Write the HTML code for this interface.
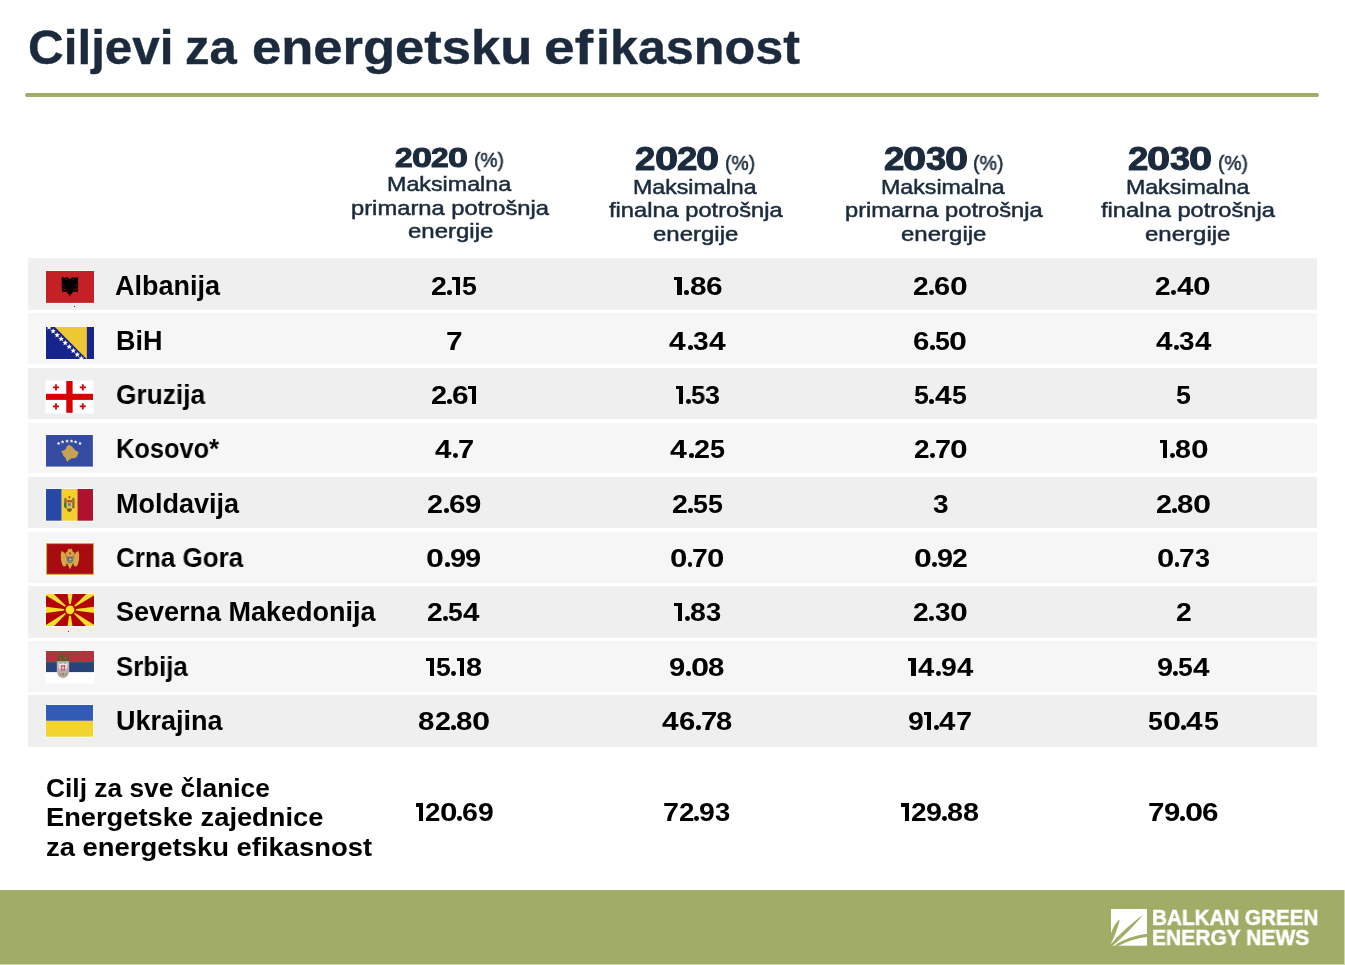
<!DOCTYPE html>
<html><head><meta charset="utf-8"><title>Ciljevi za energetsku efikasnost</title>
<style>
html,body{margin:0;padding:0;background:#fff;}
body{width:1345px;height:965px;position:relative;overflow:hidden;font-family:"Liberation Sans",sans-serif;}
.t{position:absolute;display:block;white-space:nowrap;transform-origin:0 0;will-change:transform;}
.row{position:absolute;left:28px;width:1289px;}
.flag{position:absolute;background:rgba(255,255,255,0.5);}
.fs{position:absolute;display:block;}
.rule{position:absolute;left:25px;top:93px;width:1294px;height:4px;border-radius:2px;background:#a1ad66;}
.foot{position:absolute;left:0;top:890px;width:1344px;height:74px;background:#a1ad66;}
.footedge{position:absolute;left:0;top:890px;width:1345px;height:75px;background:#cdd5ad;}
.r1{position:absolute;display:block;}
.g{color:transparent;font-size:1px;line-height:1px;overflow:hidden;}
.num{display:contents;}
.dot{position:absolute;width:1px;height:1px;background:#333;}
</style></head><body>
<div class="rule"></div>
<div class="row" style="top:258.4px;height:51.4px;background:#efefef"></div>
<div class="row" style="top:312.9px;height:50.9px;background:#f6f6f6"></div>
<div class="row" style="top:367.9px;height:50.8px;background:#efefef"></div>
<div class="row" style="top:422.5px;height:50.3px;background:#f6f6f6"></div>
<div class="row" style="top:477.2px;height:50.6px;background:#efefef"></div>
<div class="row" style="top:531.6px;height:51.3px;background:#f6f6f6"></div>
<div class="row" style="top:585.8px;height:52.1px;background:#efefef"></div>
<div class="row" style="top:640.9px;height:50.7px;background:#f6f6f6"></div>
<div class="row" style="top:695.3px;height:51.3px;background:#efefef"></div>
<div class="flag" style="left:44.9px;top:270.1px;width:50.1px;height:33.9px"></div><svg class="fs" style="left:45.9px;top:271.1px" width="48.1" height="31.9" viewBox="0 0 48.1 31.9"><rect width="48.1" height="31.9" fill="#c42127"/><path fill="#000" d="M23.9 8.4 C23 6.8 21.5 6 20 6.3 L18.5 6.9 L17 6.2 L15.2 6.4 L16 7.8 L15.3 8.6 L16.2 9.8 L15.3 11 L16.2 12.2 L15.3 13.4 L16.2 14.6 L15.4 15.8 L16.3 17 L15.5 18.2 L16.5 19.2 L15.7 21.3 L18 20.4 L19.5 20.9 L21 20.4 L21.5 22.5 L23 23.2 L23.9 25.4 L24.8 23.2 L26.3 22.5 L26.8 20.4 L28.3 20.9 L29.8 20.4 L32.1 21.3 L31.3 19.2 L32.3 18.2 L31.5 17 L32.4 15.8 L31.6 14.6 L32.5 13.4 L31.6 12.2 L32.5 11 L31.6 9.8 L32.5 8.6 L31.8 7.8 L32.6 6.4 L30.8 6.2 L29.3 6.9 L27.8 6.3 C26.3 6 24.8 6.8 23.9 8.4 Z"/><circle cx="20.6" cy="8" r="0.55" fill="#c42127"/><circle cx="27.2" cy="8" r="0.55" fill="#c42127"/><path d="M16.6 17.6 L20.2 19.2 M31.2 17.6 L27.6 19.2 M16.4 13.8 L18.6 15.2 M31.4 13.8 L29.2 15.2" stroke="#c42127" stroke-width="0.7" fill="none"/></svg>
<div class="flag" style="left:44.9px;top:325.7px;width:50.1px;height:34.2px"></div><svg class="fs" style="left:45.9px;top:326.7px" width="48.1" height="32.2" viewBox="0 0 48.1 32.2"><rect width="48.1" height="32.2" fill="#17248c"/><polygon points="8.9,0 40.9,0 40.9,32.2" fill="#eec832"/><polygon points="3.10,-2.60 3.87,-0.76 5.86,-0.60 4.34,0.70 4.80,2.65 3.10,1.60 1.40,2.65 1.86,0.70 0.34,-0.60 2.33,-0.76" fill="#fff"/><polygon points="7.12,1.30 7.89,3.14 9.88,3.30 8.37,4.60 8.83,6.55 7.12,5.50 5.42,6.55 5.88,4.60 4.37,3.30 6.36,3.14" fill="#fff"/><polygon points="11.15,5.20 11.92,7.04 13.91,7.20 12.39,8.50 12.85,10.45 11.15,9.40 9.45,10.45 9.91,8.50 8.39,7.20 10.38,7.04" fill="#fff"/><polygon points="15.18,9.10 15.94,10.94 17.93,11.10 16.42,12.40 16.88,14.35 15.18,13.30 13.47,14.35 13.93,12.40 12.42,11.10 14.41,10.94" fill="#fff"/><polygon points="19.20,13.00 19.97,14.84 21.96,15.00 20.44,16.30 20.90,18.25 19.20,17.21 17.50,18.25 17.96,16.30 16.44,15.00 18.43,14.84" fill="#fff"/><polygon points="23.23,16.90 23.99,18.74 25.98,18.90 24.47,20.20 24.93,22.15 23.23,21.11 21.52,22.15 21.98,20.20 20.47,18.90 22.46,18.74" fill="#fff"/><polygon points="27.25,20.80 28.02,22.64 30.01,22.80 28.49,24.10 28.95,26.05 27.25,25.00 25.55,26.05 26.01,24.10 24.49,22.80 26.48,22.64" fill="#fff"/><polygon points="31.28,24.70 32.04,26.54 34.03,26.70 32.52,28.00 32.98,29.95 31.28,28.91 29.57,29.95 30.03,28.00 28.52,26.70 30.51,26.54" fill="#fff"/><polygon points="35.30,28.60 36.07,30.44 38.06,30.60 36.54,31.90 37.00,33.85 35.30,32.80 33.60,33.85 34.06,31.90 32.54,30.60 34.53,30.44" fill="#fff"/></svg>
<div class="flag" style="left:44.9px;top:380.0px;width:49.0px;height:33.8px"></div><svg class="fs" style="left:45.9px;top:381.0px" width="47.0" height="31.8" viewBox="0 0 47.0 31.8"><rect width="47.0" height="31.8" fill="#fff"/><rect x="20.3" y="0" width="6.3" height="31.8" fill="#da0000"/><rect x="0" y="12.8" width="47.0" height="6.1" fill="#da0000"/><path fill="#da0000" d="M9.1 3.1999999999999997h1.8v2.2h2.2v1.8h-2.2v2.2h-1.8v-2.2h-2.2v-1.8h2.2z"/><path fill="#da0000" d="M35.9 3.1999999999999997h1.8v2.2h2.2v1.8h-2.2v2.2h-1.8v-2.2h-2.2v-1.8h2.2z"/><path fill="#da0000" d="M9.1 22.2h1.8v2.2h2.2v1.8h-2.2v2.2h-1.8v-2.2h-2.2v-1.8h2.2z"/><path fill="#da0000" d="M35.9 22.2h1.8v2.2h2.2v1.8h-2.2v2.2h-1.8v-2.2h-2.2v-1.8h2.2z"/></svg>
<div class="flag" style="left:44.9px;top:434.2px;width:48.9px;height:33.6px"></div><svg class="fs" style="left:45.9px;top:435.2px" width="46.9" height="31.6" viewBox="0 0 46.9 31.6"><rect width="46.9" height="31.6" fill="#354ba2"/><path fill="#c6a354" d="M22.6 9.8 L26.1 11.4 L27.6 13.4 L29.2 15.2 L32.6 17.2 L31.8 19.6 L30.5 22.2 L27.4 23.5 L26.2 23.1 L22.6 25.2 L21.8 27.1 L20.2 25.2 L19.8 23.1 L17.4 20.9 L16.5 18.3 L15 16.1 L17 15.7 L19.8 14.1 L20.4 12.2 L21.8 10.4 Z"/><polygon points="12.60,6.60 13.10,7.81 14.41,7.91 13.41,8.76 13.72,10.04 12.60,9.36 11.48,10.04 11.79,8.76 10.79,7.91 12.10,7.81" fill="#fff"/><polygon points="16.60,5.10 17.10,6.31 18.41,6.41 17.41,7.26 17.72,8.54 16.60,7.86 15.48,8.54 15.79,7.26 14.79,6.41 16.10,6.31" fill="#fff"/><polygon points="21.10,4.30 21.60,5.51 22.91,5.61 21.91,6.46 22.22,7.74 21.10,7.05 19.98,7.74 20.29,6.46 19.29,5.61 20.60,5.51" fill="#fff"/><polygon points="25.60,4.30 26.10,5.51 27.41,5.61 26.41,6.46 26.72,7.74 25.60,7.05 24.48,7.74 24.79,6.46 23.79,5.61 25.10,5.51" fill="#fff"/><polygon points="29.60,5.10 30.10,6.31 31.41,6.41 30.41,7.26 30.72,8.54 29.60,7.86 28.48,8.54 28.79,7.26 27.79,6.41 29.10,6.31" fill="#fff"/><polygon points="34.00,6.60 34.50,7.81 35.81,7.91 34.81,8.76 35.12,10.04 34.00,9.36 32.88,10.04 33.19,8.76 32.19,7.91 33.50,7.81" fill="#fff"/></svg>
<div class="flag" style="left:44.7px;top:488.1px;width:49.1px;height:33.7px"></div><svg class="fs" style="left:45.7px;top:489.1px" width="47.1" height="31.7" viewBox="0 0 47.1 31.7"><rect width="15.7" height="31.7" fill="#2649a8"/><rect x="15.7" width="15.8" height="31.7" fill="#f2d12f"/><rect x="31.5" width="15.6" height="31.7" fill="#af1230"/><path fill="#8d6c3c" d="M18.2 10 L19.2 8.6 L20.6 9.4 L20.6 19 L19.4 19.6 L18.2 18 Z M28.6 10 L27.6 8.6 L26.2 9.4 L26.2 19 L27.4 19.6 L28.6 18 Z"/><path fill="#8a5a3a" d="M22.4 7.6 L23.4 6.8 L24.4 7.6 L24 9.4 L22.8 9.4 Z"/><path fill="#c8382e" d="M20.8 11.2 L26 11.2 L26 13.4 L20.8 13.4 Z"/><path fill="#e0c040" d="M21.2 13.4 L25.6 13.4 L25.6 17.2 C25.6 18.6 24.4 19.4 23.4 19.6 C22.4 19.4 21.2 18.6 21.2 17.2 Z"/><path fill="#4f7fb8" d="M22 14.2 L24.8 14.2 L24.8 16.8 L22 16.8 Z"/><path fill="#3a7a3a" d="M17.8 13.6 L19.8 14.6 L20.4 19 L18.6 18.6 Z"/><path fill="#b23a2e" d="M27 17.6 L28.6 18.2 L27.8 20 Z"/><path fill="#7a5a34" d="M20.6 19.4 L26.2 19.4 L25.2 22.2 L23.4 22.9 L21.6 22.2 Z"/></svg>
<div class="flag" style="left:44.9px;top:541.9px;width:50.1px;height:33.9px"></div><svg class="fs" style="left:45.9px;top:542.9px" width="48.1" height="31.9" viewBox="0 0 48.1 31.9"><rect width="48.1" height="31.9" fill="#d2a93c"/><rect x="1.1" y="1.1" width="45.9" height="29.7" fill="#a80b10"/><path fill="#d4aa48" d="M15.6 8 C17.6 8.6 19.8 11 20.6 14 L21 20 L19.6 23.2 L17.6 23.6 L16.2 21.4 L15 17 L14.8 11.6 Z"/><path fill="#d4aa48" d="M32.4 8 C30.4 8.6 28.2 11 27.4 14 L27 20 L28.4 23.2 L30.4 23.6 L31.8 21.4 L33 17 L33.2 11.6 Z"/><path fill="#d4aa48" d="M22 5.6 L23.2 6.6 L24 5.3 L24.8 6.6 L26 5.6 L26.4 8.2 L27.2 9 L28.6 9.8 L28 12.4 L27 13.6 L21 13.6 L20 12.4 L19.4 9.8 L20.8 9 L21.6 8.2 Z"/><path fill="#d4aa48" d="M21 13.4 L27 13.4 L27.2 19.4 L26.4 21.6 L25.4 23.6 L24 26.2 L22.6 23.6 L21.6 21.6 L20.8 19.4 Z"/><circle cx="24" cy="10.4" r="1.1" fill="#c0392b"/><rect x="21.4" y="14.2" width="5.2" height="4.2" fill="#3560a8"/><path fill="#d8b048" d="M22.4 17.6 L23.4 15.2 L25.6 15.4 L25.6 17.6 Z"/><rect x="21.8" y="18.8" width="4.4" height="1.2" fill="#5a8a5a"/></svg>
<div class="flag" style="left:44.9px;top:593.0px;width:50.1px;height:34.4px"></div><svg class="fs" style="left:45.9px;top:594.0px" width="48.1" height="32.4" viewBox="0 0 48.1 32.4"><rect width="48.1" height="32.4" fill="#b40000"/><polygon fill="#f8e02b" points="24.0,15.8 0,12.700000000000001 0,18.900000000000002"/><polygon fill="#f8e02b" points="24.0,15.8 48.1,12.700000000000001 48.1,18.900000000000002"/><polygon fill="#f8e02b" points="24.0,15.8 21.5,0 26.5,0"/><polygon fill="#f8e02b" points="24.0,15.8 21.5,32.4 26.5,32.4"/><polygon fill="#f8e02b" points="24.0,15.8 0,1.5 0,0 7.8,0"/><polygon fill="#f8e02b" points="24.0,15.8 48.1,1.5 48.1,0 40.3,0"/><polygon fill="#f8e02b" points="24.0,15.8 0,30.9 0,32.4 7.8,32.4"/><polygon fill="#f8e02b" points="24.0,15.8 48.1,30.9 48.1,32.4 40.3,32.4"/><circle cx="24.0" cy="15.8" r="5.9" fill="#b40000"/><circle cx="24.0" cy="15.8" r="4.4" fill="#f8e02b"/></svg>
<div class="flag" style="left:44.9px;top:649.6px;width:50.0px;height:34.3px"></div><svg class="fs" style="left:45.9px;top:650.6px" width="48.0" height="32.3" viewBox="0 0 48.0 32.3"><rect width="48.0" height="11.1" fill="#ad363c"/><rect y="11.1" width="48.0" height="10.2" fill="#28427a"/><rect y="21.3" width="48.0" height="11" fill="#fff"/><path fill="#5c5a2e" d="M16.9 2.6 L17.9 3.4 L17.8 4.6 L20.8 4.8 L22.8 6 L23.1 8.2 L22.4 10.2 L11.6 10.2 L10.9 8.2 L11.2 6 L13.2 4.8 L16.2 4.6 L16 3.4 Z"/><path fill="#b8433f" d="M13.8 6 h1.4 v2 h-1.4z M18.8 6 h1.4 v2 h-1.4z"/><path fill="#d6a8a8" d="M10.8 10.2 L23.1 10.2 L23.1 21 L22 24.6 L19.2 26.8 L17 27.3 L14.8 26.8 L12 24.6 L10.8 21 Z"/><path fill="#b0b0b0" d="M11.3 10.8 L22.6 10.8 L22.6 20.8 L21.6 24.2 L19 26.3 L17 26.8 L15 26.3 L12.4 24.2 L11.3 20.8 Z"/><path fill="#e8e8e8" d="M12.4 12 L15 13.2 L17 12 L19 13.2 L21.6 12 L21 17 L19 19 L17 20 L15 19 L13 17 Z"/><path fill="#c0393d" d="M14.8 14.2 L19.2 14.2 L19.2 18 C19.2 19.2 18 19.8 17 20 C16 19.8 14.8 19.2 14.8 18 Z"/><path fill="#fff" d="M16.6 14.6 h0.8 v5 h-0.8z M15.2 16.4 h3.6 v0.8 h-3.6z"/><path fill="#a87a3a" d="M13.4 21.6 L15.2 23.6 L14.2 25 Z M20.6 21.6 L18.8 23.6 L19.8 25 Z M16 22 L18 22 L17.6 25 L16.4 25 Z"/></svg>
<div class="flag" style="left:44.7px;top:703.9px;width:49.1px;height:33.7px"></div><svg class="fs" style="left:45.7px;top:704.9px" width="47.1" height="31.7" viewBox="0 0 47.1 31.7"><rect width="47.1" height="15.85" fill="#335ab4"/><rect y="15.85" width="47.1" height="15.85" fill="#f3d330"/></svg>
<div class="dot" style="left:74px;top:306px"></div>
<div class="dot" style="left:68px;top:631px"></div>
<div class="dot" style="left:77.5px;top:630px;background:#ccc"></div>
<div class="footedge"></div>
<div class="foot"></div>
<svg class="fs" style="left:1110.5px;top:909px" width="36.4" height="36.7" viewBox="0 0 36.4 36.7"><rect width="36.4" height="36.7" fill="#fff"/><path fill="#a1ad66" d="M0 24.5 C2.2 17.5 5 13.2 8.8 10.4 C7.6 16 5 24 0.6 33.5 L0 33.5 Z"/><path fill="#a1ad66" d="M0 35 C8 26 19 15 32.4 5.8 C24.5 15 13.5 27 1.6 36.7 L0 36.7 Z"/><path fill="#a1ad66" d="M3.2 36.7 C12 30.5 23 26.3 36.4 24.6 L36.4 27.9 C26 29 15.5 32.5 7.6 36.7 Z"/></svg>
<div class="t" style="left:27.82px;top:24px;font-size:48.0px;line-height:48.0px;font-weight:bold;color:#1b2b3d;transform:scaleX(1.0292);-webkit-text-stroke:0.4px #1b2b3d">Ciljevi</div>
<div class="t" style="left:185.14px;top:24px;font-size:48.0px;line-height:48.0px;font-weight:bold;color:#1b2b3d;transform:scaleX(1.0203);-webkit-text-stroke:0.4px #1b2b3d">za</div>
<div class="t" style="left:252.26px;top:24px;font-size:48.0px;line-height:48.0px;font-weight:bold;color:#1b2b3d;transform:scaleX(1.0945);-webkit-text-stroke:0.4px #1b2b3d">energetsku</div>
<div class="t" style="left:544.37px;top:24px;font-size:48.0px;line-height:48.0px;font-weight:bold;color:#1b2b3d;transform:scaleX(1.1485);-webkit-text-stroke:0.4px #1b2b3d">ef</div>
<div class="t" style="left:596.23px;top:24px;font-size:48.0px;line-height:48.0px;font-weight:bold;color:#1b2b3d;transform:scaleX(1.0469);-webkit-text-stroke:0.4px #1b2b3d">ikasnost</div>
<div class="num"><span class="t" style="left:395.15px;top:144px;font-size:28.0px;line-height:28.0px;font-weight:bold;color:#1b2b3d;transform:scaleX(1.1333);-webkit-text-stroke:1.0px #1b2b3d">2</span><span class="t" style="left:411.96px;top:144px;font-size:28.0px;line-height:28.0px;font-weight:bold;color:#1b2b3d;transform:scaleX(1.2851);-webkit-text-stroke:1.0px #1b2b3d">0</span><span class="t" style="left:431.28px;top:144px;font-size:28.0px;line-height:28.0px;font-weight:bold;color:#1b2b3d;transform:scaleX(1.1333);-webkit-text-stroke:1.0px #1b2b3d">2</span><span class="t" style="left:448.09px;top:144px;font-size:28.0px;line-height:28.0px;font-weight:bold;color:#1b2b3d;transform:scaleX(1.2851);-webkit-text-stroke:1.0px #1b2b3d">0</span></div>
<div class="t" style="left:474.25px;top:150px;font-size:20.25px;line-height:20.25px;font-weight:normal;color:#1b2b3d;transform:scaleX(0.9484);-webkit-text-stroke:0.5px #1b2b3d">(%)</div>
<div class="t" style="left:387.14px;top:174px;font-size:20.25px;line-height:20.25px;font-weight:normal;color:#1b2b3d;transform:scaleX(1.1494);-webkit-text-stroke:0.5px #1b2b3d">Maksimalna</div>
<div class="t" style="left:350.87px;top:198px;font-size:20.25px;line-height:20.25px;font-weight:normal;color:#1b2b3d;transform:scaleX(1.1730);-webkit-text-stroke:0.5px #1b2b3d">primarna potrošnja</div>
<div class="t" style="left:407.74px;top:221px;font-size:20.25px;line-height:20.25px;font-weight:normal;color:#1b2b3d;transform:scaleX(1.1845);-webkit-text-stroke:0.5px #1b2b3d">energije</div>
<div class="num"><span class="t" style="left:635.20px;top:141px;font-size:34.0px;line-height:34.0px;font-weight:bold;color:#1b2b3d;transform:scaleX(1.0786);-webkit-text-stroke:1.0px #1b2b3d">2</span><span class="t" style="left:654.62px;top:141px;font-size:34.0px;line-height:34.0px;font-weight:bold;color:#1b2b3d;transform:scaleX(1.2230);-webkit-text-stroke:1.0px #1b2b3d">0</span><span class="t" style="left:676.95px;top:141px;font-size:34.0px;line-height:34.0px;font-weight:bold;color:#1b2b3d;transform:scaleX(1.0786);-webkit-text-stroke:1.0px #1b2b3d">2</span><span class="t" style="left:696.38px;top:141px;font-size:34.0px;line-height:34.0px;font-weight:bold;color:#1b2b3d;transform:scaleX(1.2230);-webkit-text-stroke:1.0px #1b2b3d">0</span></div>
<div class="t" style="left:724.64px;top:153px;font-size:20.25px;line-height:20.25px;font-weight:normal;color:#1b2b3d;transform:scaleX(0.9552);-webkit-text-stroke:0.5px #1b2b3d">(%)</div>
<div class="t" style="left:633.15px;top:177px;font-size:20.25px;line-height:20.25px;font-weight:normal;color:#1b2b3d;transform:scaleX(1.1438);-webkit-text-stroke:0.5px #1b2b3d">Maksimalna</div>
<div class="t" style="left:608.56px;top:200px;font-size:20.25px;line-height:20.25px;font-weight:normal;color:#1b2b3d;transform:scaleX(1.1679);-webkit-text-stroke:0.5px #1b2b3d">finalna potrošnja</div>
<div class="t" style="left:652.84px;top:224px;font-size:20.25px;line-height:20.25px;font-weight:normal;color:#1b2b3d;transform:scaleX(1.1845);-webkit-text-stroke:0.5px #1b2b3d">energije</div>
<div class="num"><span class="t" style="left:883.50px;top:142px;font-size:33.25px;line-height:33.25px;font-weight:bold;color:#1b2b3d;transform:scaleX(1.1011);-webkit-text-stroke:1.0px #1b2b3d">2</span><span class="t" style="left:902.89px;top:142px;font-size:33.25px;line-height:33.25px;font-weight:bold;color:#1b2b3d;transform:scaleX(1.2486);-webkit-text-stroke:1.0px #1b2b3d">0</span><span class="t" style="left:925.57px;top:142px;font-size:33.25px;line-height:33.25px;font-weight:bold;color:#1b2b3d;transform:scaleX(1.0869);-webkit-text-stroke:1.0px #1b2b3d">3</span><span class="t" style="left:944.71px;top:142px;font-size:33.25px;line-height:33.25px;font-weight:bold;color:#1b2b3d;transform:scaleX(1.2486);-webkit-text-stroke:1.0px #1b2b3d">0</span></div>
<div class="t" style="left:972.82px;top:153px;font-size:20.25px;line-height:20.25px;font-weight:normal;color:#1b2b3d;transform:scaleX(0.9690);-webkit-text-stroke:0.5px #1b2b3d">(%)</div>
<div class="t" style="left:881.35px;top:177px;font-size:20.25px;line-height:20.25px;font-weight:normal;color:#1b2b3d;transform:scaleX(1.1447);-webkit-text-stroke:0.5px #1b2b3d">Maksimalna</div>
<div class="t" style="left:844.68px;top:200px;font-size:20.25px;line-height:20.25px;font-weight:normal;color:#1b2b3d;transform:scaleX(1.1706);-webkit-text-stroke:0.5px #1b2b3d">primarna potrošnja</div>
<div class="t" style="left:901.04px;top:224px;font-size:20.25px;line-height:20.25px;font-weight:normal;color:#1b2b3d;transform:scaleX(1.1859);-webkit-text-stroke:0.5px #1b2b3d">energije</div>
<div class="num"><span class="t" style="left:1127.50px;top:142px;font-size:33.25px;line-height:33.25px;font-weight:bold;color:#1b2b3d;transform:scaleX(1.1025);-webkit-text-stroke:1.0px #1b2b3d">2</span><span class="t" style="left:1146.92px;top:142px;font-size:33.25px;line-height:33.25px;font-weight:bold;color:#1b2b3d;transform:scaleX(1.2501);-webkit-text-stroke:1.0px #1b2b3d">0</span><span class="t" style="left:1169.62px;top:142px;font-size:33.25px;line-height:33.25px;font-weight:bold;color:#1b2b3d;transform:scaleX(1.0882);-webkit-text-stroke:1.0px #1b2b3d">3</span><span class="t" style="left:1188.79px;top:142px;font-size:33.25px;line-height:33.25px;font-weight:bold;color:#1b2b3d;transform:scaleX(1.2501);-webkit-text-stroke:1.0px #1b2b3d">0</span></div>
<div class="t" style="left:1217.55px;top:153px;font-size:20.25px;line-height:20.25px;font-weight:normal;color:#1b2b3d;transform:scaleX(0.9484);-webkit-text-stroke:0.5px #1b2b3d">(%)</div>
<div class="t" style="left:1125.55px;top:177px;font-size:20.25px;line-height:20.25px;font-weight:normal;color:#1b2b3d;transform:scaleX(1.1419);-webkit-text-stroke:0.5px #1b2b3d">Maksimalna</div>
<div class="t" style="left:1100.66px;top:200px;font-size:20.25px;line-height:20.25px;font-weight:normal;color:#1b2b3d;transform:scaleX(1.1699);-webkit-text-stroke:0.5px #1b2b3d">finalna potrošnja</div>
<div class="t" style="left:1145.24px;top:224px;font-size:20.25px;line-height:20.25px;font-weight:normal;color:#1b2b3d;transform:scaleX(1.1859);-webkit-text-stroke:0.5px #1b2b3d">energije</div>
<div class="t" style="left:115.26px;top:273px;font-size:27.0px;line-height:27.0px;font-weight:bold;color:#000;transform:scaleX(0.9979);">Albanija</div>
<div class="num"><span class="t" style="left:430.75px;top:273px;font-size:26.5px;line-height:26.5px;font-weight:bold;color:#000;transform:scaleX(1.0753);">2</span><span class="r1 g" style="left:446.87px;top:289.98px;width:5.02px;height:5.02px;border-radius:50%;background:#000">.</span><span class="r1" style="left:452.19px;top:276.50px;width:7.84px;height:3.52px;background:#000"></span><span class="r1 g" style="left:455.60px;top:276.50px;width:4.43px;height:18.50px;background:#000">1</span><span class="t" style="left:462.14px;top:273px;font-size:26.5px;line-height:26.5px;font-weight:bold;color:#000;transform:scaleX(1.0083);">5</span></div>
<div class="num"><span class="r1" style="left:673.60px;top:276.50px;width:7.94px;height:3.52px;background:#000"></span><span class="r1 g" style="left:677.05px;top:276.50px;width:4.49px;height:18.50px;background:#000">1</span><span class="r1 g" style="left:684.39px;top:289.91px;width:5.09px;height:5.09px;border-radius:50%;background:#000">.</span><span class="t" style="left:689.61px;top:273px;font-size:26.5px;line-height:26.5px;font-weight:bold;color:#000;transform:scaleX(1.1181);">8</span><span class="t" style="left:705.70px;top:273px;font-size:26.5px;line-height:26.5px;font-weight:bold;color:#000;transform:scaleX(1.1249);">6</span></div>
<div class="num"><span class="t" style="left:913.46px;top:273px;font-size:26.5px;line-height:26.5px;font-weight:bold;color:#000;transform:scaleX(1.0603);">2</span><span class="r1 g" style="left:929.35px;top:290.05px;width:4.95px;height:4.95px;border-radius:50%;background:#000">.</span><span class="t" style="left:934.28px;top:273px;font-size:26.5px;line-height:26.5px;font-weight:bold;color:#000;transform:scaleX(1.0943);">6</span><span class="t" style="left:949.63px;top:273px;font-size:26.5px;line-height:26.5px;font-weight:bold;color:#000;transform:scaleX(1.2022);">0</span></div>
<div class="num"><span class="t" style="left:1155.36px;top:273px;font-size:26.5px;line-height:26.5px;font-weight:bold;color:#000;transform:scaleX(1.0567);">2</span><span class="r1 g" style="left:1171.20px;top:290.06px;width:4.94px;height:4.94px;border-radius:50%;background:#000">.</span><span class="t" style="left:1176.69px;top:273px;font-size:26.5px;line-height:26.5px;font-weight:bold;color:#000;transform:scaleX(1.1106);">4</span><span class="t" style="left:1193.49px;top:273px;font-size:26.5px;line-height:26.5px;font-weight:bold;color:#000;transform:scaleX(1.1982);">0</span></div>
<div class="t" style="left:116.09px;top:328px;font-size:27.0px;line-height:27.0px;font-weight:bold;color:#000;">BiH</div>
<div class="num"><span class="t" style="left:445.60px;top:328px;font-size:26.5px;line-height:26.5px;font-weight:bold;color:#000;transform:scaleX(1.1281);">7</span></div>
<div class="num"><span class="t" style="left:669.35px;top:328px;font-size:26.5px;line-height:26.5px;font-weight:bold;color:#000;transform:scaleX(1.1312);">4</span><span class="r1 g" style="left:687.50px;top:344.97px;width:5.03px;height:5.03px;border-radius:50%;background:#000">.</span><span class="t" style="left:692.97px;top:328px;font-size:26.5px;line-height:26.5px;font-weight:bold;color:#000;transform:scaleX(1.0624);">3</span><span class="t" style="left:708.56px;top:328px;font-size:26.5px;line-height:26.5px;font-weight:bold;color:#000;transform:scaleX(1.1312);">4</span></div>
<div class="num"><span class="t" style="left:913.27px;top:328px;font-size:26.5px;line-height:26.5px;font-weight:bold;color:#000;transform:scaleX(1.1070);">6</span><span class="r1 g" style="left:929.83px;top:344.99px;width:5.01px;height:5.01px;border-radius:50%;background:#000">.</span><span class="t" style="left:935.04px;top:328px;font-size:26.5px;line-height:26.5px;font-weight:bold;color:#000;transform:scaleX(1.0057);">5</span><span class="t" style="left:949.44px;top:328px;font-size:26.5px;line-height:26.5px;font-weight:bold;color:#000;transform:scaleX(1.2161);">0</span></div>
<div class="num"><span class="t" style="left:1156.06px;top:328px;font-size:26.5px;line-height:26.5px;font-weight:bold;color:#000;transform:scaleX(1.1149);">4</span><span class="r1 g" style="left:1173.94px;top:345.05px;width:4.95px;height:4.95px;border-radius:50%;background:#000">.</span><span class="t" style="left:1179.33px;top:328px;font-size:26.5px;line-height:26.5px;font-weight:bold;color:#000;transform:scaleX(1.0470);">3</span><span class="t" style="left:1194.70px;top:328px;font-size:26.5px;line-height:26.5px;font-weight:bold;color:#000;transform:scaleX(1.1149);">4</span></div>
<div class="t" style="left:115.65px;top:382px;font-size:27.0px;line-height:27.0px;font-weight:bold;color:#000;transform:scaleX(0.9738);">Gruzija</div>
<div class="num"><span class="t" style="left:430.73px;top:382px;font-size:26.5px;line-height:26.5px;font-weight:bold;color:#000;transform:scaleX(1.0900);">2</span><span class="r1 g" style="left:447.08px;top:398.91px;width:5.09px;height:5.09px;border-radius:50%;background:#000">.</span><span class="t" style="left:452.14px;top:382px;font-size:26.5px;line-height:26.5px;font-weight:bold;color:#000;transform:scaleX(1.1250);">6</span><span class="r1" style="left:468.36px;top:385.50px;width:7.94px;height:3.52px;background:#000"></span><span class="r1 g" style="left:471.81px;top:385.50px;width:4.49px;height:18.50px;background:#000">1</span></div>
<div class="num"><span class="r1" style="left:675.70px;top:385.50px;width:7.51px;height:3.52px;background:#000"></span><span class="r1 g" style="left:678.97px;top:385.50px;width:4.24px;height:18.50px;background:#000">1</span><span class="r1 g" style="left:685.90px;top:399.19px;width:4.81px;height:4.81px;border-radius:50%;background:#000">.</span><span class="t" style="left:690.91px;top:382px;font-size:26.5px;line-height:26.5px;font-weight:bold;color:#000;transform:scaleX(0.9661);">5</span><span class="t" style="left:705.29px;top:382px;font-size:26.5px;line-height:26.5px;font-weight:bold;color:#000;transform:scaleX(1.0170);">3</span></div>
<div class="num"><span class="t" style="left:913.50px;top:382px;font-size:26.5px;line-height:26.5px;font-weight:bold;color:#000;transform:scaleX(1.0096);">5</span><span class="r1 g" style="left:928.98px;top:398.97px;width:5.03px;height:5.03px;border-radius:50%;background:#000">.</span><span class="t" style="left:934.57px;top:382px;font-size:26.5px;line-height:26.5px;font-weight:bold;color:#000;transform:scaleX(1.1316);">4</span><span class="t" style="left:952.02px;top:382px;font-size:26.5px;line-height:26.5px;font-weight:bold;color:#000;transform:scaleX(1.0096);">5</span></div>
<div class="num"><span class="t" style="left:1176.30px;top:382px;font-size:26.5px;line-height:26.5px;font-weight:bold;color:#000;transform:scaleX(1.0113);">5</span></div>
<div class="t" style="left:116.25px;top:436px;font-size:27.0px;line-height:27.0px;font-weight:bold;color:#000;transform:scaleX(0.9408);">Kosovo*</div>
<div class="num"><span class="t" style="left:435.16px;top:436px;font-size:26.5px;line-height:26.5px;font-weight:bold;color:#000;transform:scaleX(1.1161);">4</span><span class="r1 g" style="left:453.06px;top:453.04px;width:4.96px;height:4.96px;border-radius:50%;background:#000">.</span><span class="t" style="left:457.85px;top:436px;font-size:26.5px;line-height:26.5px;font-weight:bold;color:#000;transform:scaleX(1.0954);">7</span></div>
<div class="num"><span class="t" style="left:670.45px;top:436px;font-size:26.5px;line-height:26.5px;font-weight:bold;color:#000;transform:scaleX(1.1423);">4</span><span class="r1 g" style="left:688.77px;top:452.92px;width:5.08px;height:5.08px;border-radius:50%;background:#000">.</span><span class="t" style="left:694.00px;top:436px;font-size:26.5px;line-height:26.5px;font-weight:bold;color:#000;transform:scaleX(1.0869);">2</span><span class="t" style="left:709.59px;top:436px;font-size:26.5px;line-height:26.5px;font-weight:bold;color:#000;transform:scaleX(1.0192);">5</span></div>
<div class="num"><span class="t" style="left:913.96px;top:436px;font-size:26.5px;line-height:26.5px;font-weight:bold;color:#000;transform:scaleX(1.0561);">2</span><span class="r1 g" style="left:929.80px;top:453.07px;width:4.93px;height:4.93px;border-radius:50%;background:#000">.</span><span class="t" style="left:934.56px;top:436px;font-size:26.5px;line-height:26.5px;font-weight:bold;color:#000;transform:scaleX(1.0894);">7</span><span class="t" style="left:949.70px;top:436px;font-size:26.5px;line-height:26.5px;font-weight:bold;color:#000;transform:scaleX(1.1975);">0</span></div>
<div class="num"><span class="r1" style="left:1159.70px;top:439.50px;width:7.68px;height:3.52px;background:#000"></span><span class="r1 g" style="left:1163.04px;top:439.50px;width:4.34px;height:18.50px;background:#000">1</span><span class="r1 g" style="left:1170.13px;top:453.08px;width:4.92px;height:4.92px;border-radius:50%;background:#000">.</span><span class="t" style="left:1175.18px;top:436px;font-size:26.5px;line-height:26.5px;font-weight:bold;color:#000;transform:scaleX(1.0810);">8</span><span class="t" style="left:1190.63px;top:436px;font-size:26.5px;line-height:26.5px;font-weight:bold;color:#000;transform:scaleX(1.1949);">0</span></div>
<div class="t" style="left:115.75px;top:491px;font-size:27.0px;line-height:27.0px;font-weight:bold;color:#000;">Moldavija</div>
<div class="num"><span class="t" style="left:427.24px;top:491px;font-size:26.5px;line-height:26.5px;font-weight:bold;color:#000;transform:scaleX(1.0852);">2</span><span class="r1 g" style="left:443.51px;top:507.93px;width:5.07px;height:5.07px;border-radius:50%;background:#000">.</span><span class="t" style="left:448.55px;top:491px;font-size:26.5px;line-height:26.5px;font-weight:bold;color:#000;transform:scaleX(1.1200);">6</span><span class="t" style="left:464.52px;top:491px;font-size:26.5px;line-height:26.5px;font-weight:bold;color:#000;transform:scaleX(1.1086);">9</span></div>
<div class="num"><span class="t" style="left:671.64px;top:491px;font-size:26.5px;line-height:26.5px;font-weight:bold;color:#000;transform:scaleX(1.0770);">2</span><span class="r1 g" style="left:687.79px;top:507.97px;width:5.03px;height:5.03px;border-radius:50%;background:#000">.</span><span class="t" style="left:693.03px;top:491px;font-size:26.5px;line-height:26.5px;font-weight:bold;color:#000;transform:scaleX(1.0099);">5</span><span class="t" style="left:707.82px;top:491px;font-size:26.5px;line-height:26.5px;font-weight:bold;color:#000;transform:scaleX(1.0099);">5</span></div>
<div class="num"><span class="t" style="left:932.94px;top:491px;font-size:26.5px;line-height:26.5px;font-weight:bold;color:#000;transform:scaleX(1.0566);">3</span></div>
<div class="num"><span class="t" style="left:1155.64px;top:491px;font-size:26.5px;line-height:26.5px;font-weight:bold;color:#000;transform:scaleX(1.0816);">2</span><span class="r1 g" style="left:1171.86px;top:507.95px;width:5.05px;height:5.05px;border-radius:50%;background:#000">.</span><span class="t" style="left:1177.04px;top:491px;font-size:26.5px;line-height:26.5px;font-weight:bold;color:#000;transform:scaleX(1.1096);">8</span><span class="t" style="left:1192.90px;top:491px;font-size:26.5px;line-height:26.5px;font-weight:bold;color:#000;transform:scaleX(1.2264);">0</span></div>
<div class="t" style="left:115.76px;top:545px;font-size:27.0px;line-height:27.0px;font-weight:bold;color:#000;transform:scaleX(0.9635);">Crna Gora</div>
<div class="num"><span class="t" style="left:426.47px;top:545px;font-size:26.5px;line-height:26.5px;font-weight:bold;color:#000;transform:scaleX(1.2138);">0</span><span class="r1 g" style="left:444.50px;top:562.00px;width:5.00px;height:5.00px;border-radius:50%;background:#000">.</span><span class="t" style="left:449.63px;top:545px;font-size:26.5px;line-height:26.5px;font-weight:bold;color:#000;transform:scaleX(1.0936);">9</span><span class="t" style="left:465.23px;top:545px;font-size:26.5px;line-height:26.5px;font-weight:bold;color:#000;transform:scaleX(1.0936);">9</span></div>
<div class="num"><span class="t" style="left:670.01px;top:545px;font-size:26.5px;line-height:26.5px;font-weight:bold;color:#000;transform:scaleX(1.1777);">0</span><span class="r1 g" style="left:687.50px;top:562.15px;width:4.85px;height:4.85px;border-radius:50%;background:#000">.</span><span class="t" style="left:692.18px;top:545px;font-size:26.5px;line-height:26.5px;font-weight:bold;color:#000;transform:scaleX(1.0714);">7</span><span class="t" style="left:707.07px;top:545px;font-size:26.5px;line-height:26.5px;font-weight:bold;color:#000;transform:scaleX(1.1777);">0</span></div>
<div class="num"><span class="t" style="left:913.68px;top:545px;font-size:26.5px;line-height:26.5px;font-weight:bold;color:#000;transform:scaleX(1.2091);">0</span><span class="r1 g" style="left:931.64px;top:562.02px;width:4.98px;height:4.98px;border-radius:50%;background:#000">.</span><span class="t" style="left:936.75px;top:545px;font-size:26.5px;line-height:26.5px;font-weight:bold;color:#000;transform:scaleX(1.0894);">9</span><span class="t" style="left:952.31px;top:545px;font-size:26.5px;line-height:26.5px;font-weight:bold;color:#000;transform:scaleX(1.0664);">2</span></div>
<div class="num"><span class="t" style="left:1157.32px;top:545px;font-size:26.5px;line-height:26.5px;font-weight:bold;color:#000;transform:scaleX(1.1696);">0</span><span class="r1 g" style="left:1174.68px;top:562.18px;width:4.82px;height:4.82px;border-radius:50%;background:#000">.</span><span class="t" style="left:1179.34px;top:545px;font-size:26.5px;line-height:26.5px;font-weight:bold;color:#000;transform:scaleX(1.0641);">7</span><span class="t" style="left:1194.67px;top:545px;font-size:26.5px;line-height:26.5px;font-weight:bold;color:#000;transform:scaleX(1.0181);">3</span></div>
<div class="t" style="left:116.03px;top:599px;font-size:27.0px;line-height:27.0px;font-weight:bold;color:#000;">Severna Makedonija</div>
<div class="num"><span class="t" style="left:427.25px;top:599px;font-size:26.5px;line-height:26.5px;font-weight:bold;color:#000;transform:scaleX(1.0643);">2</span><span class="r1 g" style="left:443.21px;top:616.03px;width:4.97px;height:4.97px;border-radius:50%;background:#000">.</span><span class="t" style="left:448.38px;top:599px;font-size:26.5px;line-height:26.5px;font-weight:bold;color:#000;transform:scaleX(0.9980);">5</span><span class="t" style="left:463.35px;top:599px;font-size:26.5px;line-height:26.5px;font-weight:bold;color:#000;transform:scaleX(1.1186);">4</span></div>
<div class="num"><span class="r1" style="left:674.40px;top:602.50px;width:7.62px;height:3.52px;background:#000"></span><span class="r1 g" style="left:677.72px;top:602.50px;width:4.31px;height:18.50px;background:#000">1</span><span class="r1 g" style="left:684.76px;top:616.11px;width:4.89px;height:4.89px;border-radius:50%;background:#000">.</span><span class="t" style="left:689.77px;top:599px;font-size:26.5px;line-height:26.5px;font-weight:bold;color:#000;transform:scaleX(1.0733);">8</span><span class="t" style="left:705.67px;top:599px;font-size:26.5px;line-height:26.5px;font-weight:bold;color:#000;transform:scaleX(1.0328);">3</span></div>
<div class="num"><span class="t" style="left:913.45px;top:599px;font-size:26.5px;line-height:26.5px;font-weight:bold;color:#000;transform:scaleX(1.0643);">2</span><span class="r1 g" style="left:929.41px;top:616.03px;width:4.97px;height:4.97px;border-radius:50%;background:#000">.</span><span class="t" style="left:934.82px;top:599px;font-size:26.5px;line-height:26.5px;font-weight:bold;color:#000;transform:scaleX(1.0505);">3</span><span class="t" style="left:949.57px;top:599px;font-size:26.5px;line-height:26.5px;font-weight:bold;color:#000;transform:scaleX(1.2068);">0</span></div>
<div class="num"><span class="t" style="left:1175.75px;top:599px;font-size:26.5px;line-height:26.5px;font-weight:bold;color:#000;transform:scaleX(1.0705);">2</span></div>
<div class="t" style="left:116.05px;top:654px;font-size:27.0px;line-height:27.0px;font-weight:bold;color:#000;transform:scaleX(0.9559);">Srbija</div>
<div class="num"><span class="r1" style="left:426.20px;top:657.50px;width:7.74px;height:3.52px;background:#000"></span><span class="r1 g" style="left:429.57px;top:657.50px;width:4.37px;height:18.50px;background:#000">1</span><span class="t" style="left:436.02px;top:654px;font-size:26.5px;line-height:26.5px;font-weight:bold;color:#000;transform:scaleX(0.9957);">5</span><span class="r1 g" style="left:451.30px;top:671.04px;width:4.96px;height:4.96px;border-radius:50%;background:#000">.</span><span class="r1" style="left:456.55px;top:657.50px;width:7.74px;height:3.52px;background:#000"></span><span class="r1 g" style="left:459.92px;top:657.50px;width:4.37px;height:18.50px;background:#000">1</span><span class="t" style="left:466.30px;top:654px;font-size:26.5px;line-height:26.5px;font-weight:bold;color:#000;transform:scaleX(1.0893);">8</span></div>
<div class="num"><span class="t" style="left:669.42px;top:654px;font-size:26.5px;line-height:26.5px;font-weight:bold;color:#000;transform:scaleX(1.1049);">9</span><span class="r1 g" style="left:685.96px;top:670.95px;width:5.05px;height:5.05px;border-radius:50%;background:#000">.</span><span class="t" style="left:690.89px;top:654px;font-size:26.5px;line-height:26.5px;font-weight:bold;color:#000;transform:scaleX(1.2264);">0</span><span class="t" style="left:708.32px;top:654px;font-size:26.5px;line-height:26.5px;font-weight:bold;color:#000;transform:scaleX(1.1095);">8</span></div>
<div class="num"><span class="r1" style="left:908.10px;top:657.50px;width:7.66px;height:3.52px;background:#000"></span><span class="r1 g" style="left:911.43px;top:657.50px;width:4.33px;height:18.50px;background:#000">1</span><span class="t" style="left:918.17px;top:654px;font-size:26.5px;line-height:26.5px;font-weight:bold;color:#000;transform:scaleX(1.1046);">4</span><span class="r1 g" style="left:935.89px;top:671.09px;width:4.91px;height:4.91px;border-radius:50%;background:#000">.</span><span class="t" style="left:940.92px;top:654px;font-size:26.5px;line-height:26.5px;font-weight:bold;color:#000;transform:scaleX(1.0737);">9</span><span class="t" style="left:956.65px;top:654px;font-size:26.5px;line-height:26.5px;font-weight:bold;color:#000;transform:scaleX(1.1046);">4</span></div>
<div class="num"><span class="t" style="left:1156.73px;top:654px;font-size:26.5px;line-height:26.5px;font-weight:bold;color:#000;transform:scaleX(1.0915);">9</span><span class="r1 g" style="left:1173.07px;top:671.01px;width:4.99px;height:4.99px;border-radius:50%;background:#000">.</span><span class="t" style="left:1178.26px;top:654px;font-size:26.5px;line-height:26.5px;font-weight:bold;color:#000;transform:scaleX(1.0019);">5</span><span class="t" style="left:1193.28px;top:654px;font-size:26.5px;line-height:26.5px;font-weight:bold;color:#000;transform:scaleX(1.1229);">4</span></div>
<div class="t" style="left:115.98px;top:708px;font-size:27.0px;line-height:27.0px;font-weight:bold;color:#000;">Ukrajina</div>
<div class="num"><span class="t" style="left:418.42px;top:708px;font-size:26.5px;line-height:26.5px;font-weight:bold;color:#000;transform:scaleX(1.1125);">8</span><span class="t" style="left:434.60px;top:708px;font-size:26.5px;line-height:26.5px;font-weight:bold;color:#000;transform:scaleX(1.0845);">2</span><span class="r1 g" style="left:450.86px;top:724.93px;width:5.07px;height:5.07px;border-radius:50%;background:#000">.</span><span class="t" style="left:456.05px;top:708px;font-size:26.5px;line-height:26.5px;font-weight:bold;color:#000;transform:scaleX(1.1125);">8</span><span class="t" style="left:471.96px;top:708px;font-size:26.5px;line-height:26.5px;font-weight:bold;color:#000;transform:scaleX(1.2297);">0</span></div>
<div class="num"><span class="t" style="left:662.35px;top:708px;font-size:26.5px;line-height:26.5px;font-weight:bold;color:#000;transform:scaleX(1.1259);">4</span><span class="t" style="left:679.49px;top:708px;font-size:26.5px;line-height:26.5px;font-weight:bold;color:#000;transform:scaleX(1.1056);">6</span><span class="r1 g" style="left:696.02px;top:725.00px;width:5.00px;height:5.00px;border-radius:50%;background:#000">.</span><span class="t" style="left:700.86px;top:708px;font-size:26.5px;line-height:26.5px;font-weight:bold;color:#000;transform:scaleX(1.1051);">7</span><span class="t" style="left:716.47px;top:708px;font-size:26.5px;line-height:26.5px;font-weight:bold;color:#000;transform:scaleX(1.0989);">8</span></div>
<div class="num"><span class="t" style="left:908.04px;top:708px;font-size:26.5px;line-height:26.5px;font-weight:bold;color:#000;transform:scaleX(1.0762);">9</span><span class="r1" style="left:923.56px;top:711.50px;width:7.68px;height:3.52px;background:#000"></span><span class="r1 g" style="left:926.90px;top:711.50px;width:4.34px;height:18.50px;background:#000">1</span><span class="r1 g" style="left:934.00px;top:725.08px;width:4.92px;height:4.92px;border-radius:50%;background:#000">.</span><span class="t" style="left:939.46px;top:708px;font-size:26.5px;line-height:26.5px;font-weight:bold;color:#000;transform:scaleX(1.1073);">4</span><span class="t" style="left:956.17px;top:708px;font-size:26.5px;line-height:26.5px;font-weight:bold;color:#000;transform:scaleX(1.0868);">7</span></div>
<div class="num"><span class="t" style="left:1148.20px;top:708px;font-size:26.5px;line-height:26.5px;font-weight:bold;color:#000;transform:scaleX(1.0067);">5</span><span class="t" style="left:1162.61px;top:708px;font-size:26.5px;line-height:26.5px;font-weight:bold;color:#000;transform:scaleX(1.2173);">0</span><span class="r1 g" style="left:1180.69px;top:724.99px;width:5.01px;height:5.01px;border-radius:50%;background:#000">.</span><span class="t" style="left:1186.26px;top:708px;font-size:26.5px;line-height:26.5px;font-weight:bold;color:#000;transform:scaleX(1.1284);">4</span><span class="t" style="left:1203.66px;top:708px;font-size:26.5px;line-height:26.5px;font-weight:bold;color:#000;transform:scaleX(1.0067);">5</span></div>
<div class="t" style="left:45.65px;top:775px;font-size:26.25px;line-height:26.25px;font-weight:bold;color:#000;transform:scaleX(1.0028);">Cilj za sve članice</div>
<div class="t" style="left:45.83px;top:804px;font-size:26.25px;line-height:26.25px;font-weight:bold;color:#000;transform:scaleX(1.0387);">Energetske zajednice</div>
<div class="t" style="left:46.00px;top:834px;font-size:26.25px;line-height:26.25px;font-weight:bold;color:#000;transform:scaleX(1.0446);">za energetsku efikasnost</div>
<div class="num"><span class="r1" style="left:415.50px;top:803.20px;width:7.61px;height:3.38px;background:#000"></span><span class="r1 g" style="left:418.81px;top:803.20px;width:4.30px;height:17.80px;background:#000">1</span><span class="t" style="left:425.11px;top:800px;font-size:25.5px;line-height:25.5px;font-weight:bold;color:#000;transform:scaleX(1.0856);">2</span><span class="t" style="left:439.77px;top:800px;font-size:25.5px;line-height:25.5px;font-weight:bold;color:#000;transform:scaleX(1.2309);">0</span><span class="r1 g" style="left:457.36px;top:816.12px;width:4.88px;height:4.88px;border-radius:50%;background:#000">.</span><span class="t" style="left:462.22px;top:800px;font-size:25.5px;line-height:25.5px;font-weight:bold;color:#000;transform:scaleX(1.1205);">6</span><span class="t" style="left:477.59px;top:800px;font-size:25.5px;line-height:25.5px;font-weight:bold;color:#000;transform:scaleX(1.1090);">9</span></div>
<div class="num"><span class="t" style="left:663.35px;top:800px;font-size:25.5px;line-height:25.5px;font-weight:bold;color:#000;transform:scaleX(1.1233);">7</span><span class="t" style="left:678.64px;top:800px;font-size:25.5px;line-height:25.5px;font-weight:bold;color:#000;transform:scaleX(1.0889);">2</span><span class="r1 g" style="left:694.35px;top:816.11px;width:4.89px;height:4.89px;border-radius:50%;background:#000">.</span><span class="t" style="left:699.38px;top:800px;font-size:25.5px;line-height:25.5px;font-weight:bold;color:#000;transform:scaleX(1.1124);">9</span><span class="t" style="left:714.95px;top:800px;font-size:25.5px;line-height:25.5px;font-weight:bold;color:#000;transform:scaleX(1.0748);">3</span></div>
<div class="num"><span class="r1" style="left:901.40px;top:803.20px;width:7.71px;height:3.38px;background:#000"></span><span class="r1 g" style="left:904.75px;top:803.20px;width:4.36px;height:17.80px;background:#000">1</span><span class="t" style="left:911.14px;top:800px;font-size:25.5px;line-height:25.5px;font-weight:bold;color:#000;transform:scaleX(1.0996);">2</span><span class="t" style="left:926.24px;top:800px;font-size:25.5px;line-height:25.5px;font-weight:bold;color:#000;transform:scaleX(1.1233);">9</span><span class="r1 g" style="left:942.42px;top:816.06px;width:4.94px;height:4.94px;border-radius:50%;background:#000">.</span><span class="t" style="left:947.49px;top:800px;font-size:25.5px;line-height:25.5px;font-weight:bold;color:#000;transform:scaleX(1.1280);">8</span><span class="t" style="left:963.25px;top:800px;font-size:25.5px;line-height:25.5px;font-weight:bold;color:#000;transform:scaleX(1.1280);">8</span></div>
<div class="num"><span class="t" style="left:1147.82px;top:800px;font-size:25.5px;line-height:25.5px;font-weight:bold;color:#000;transform:scaleX(1.1611);">7</span><span class="t" style="left:1163.60px;top:800px;font-size:25.5px;line-height:25.5px;font-weight:bold;color:#000;transform:scaleX(1.1498);">9</span><span class="r1 g" style="left:1180.16px;top:815.94px;width:5.06px;height:5.06px;border-radius:50%;background:#000">.</span><span class="t" style="left:1185.09px;top:800px;font-size:25.5px;line-height:25.5px;font-weight:bold;color:#000;transform:scaleX(1.2762);">0</span><span class="t" style="left:1202.40px;top:800px;font-size:25.5px;line-height:25.5px;font-weight:bold;color:#000;transform:scaleX(1.1617);">6</span></div>
<div class="t" style="left:1152.16px;top:907px;font-size:21.75px;line-height:21.75px;font-weight:bold;color:#fff;transform:scaleX(0.9499);-webkit-text-stroke:0.5px #fff">BALKAN GREEN</div>
<div class="t" style="left:1152.13px;top:927px;font-size:21.75px;line-height:21.75px;font-weight:bold;color:#fff;transform:scaleX(0.9663);-webkit-text-stroke:0.5px #fff">ENERGY NEWS</div>
</body></html>
